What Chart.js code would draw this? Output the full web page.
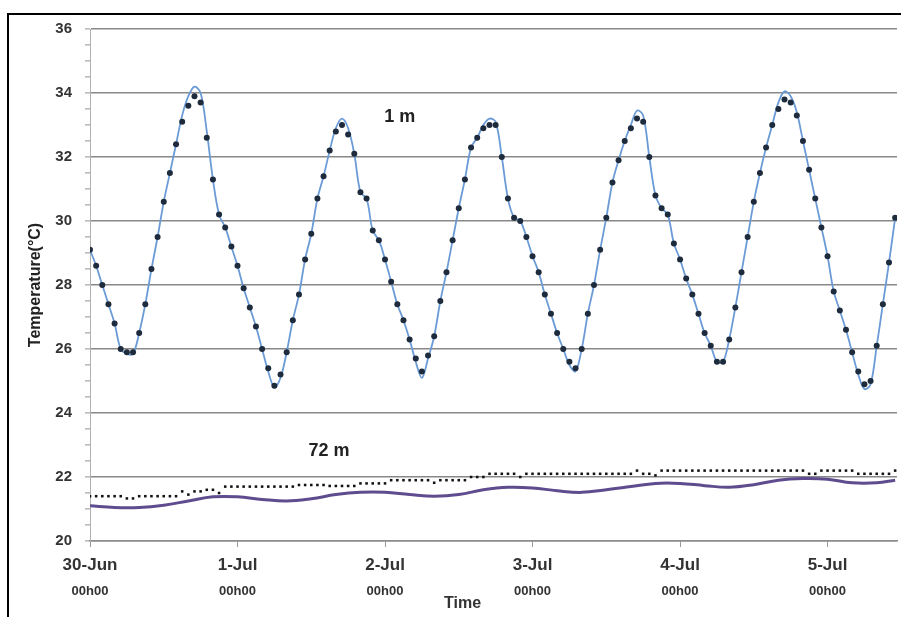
<!DOCTYPE html>
<html>
<head>
<meta charset="utf-8">
<script src="https://cdn.jsdelivr.net/npm/chart.js@4"></script>
<style>
  body { margin: 0; background: #fff; overflow: hidden; }
  #frame { position: absolute; left: 7px; top: 13px; width: 1000px; height: 1000px;
           border-left: 2px solid #000; border-top: 2px solid #000; }
  #graficoTemp { position: absolute; left: 0; top: 0; }
</style>
</head>
<body>
<div id="frame"></div>
<canvas id="graficoTemp" width="901" height="617"></canvas>
<script>
// hourly time axis, starting 30-Jun 00h00
const horas = Array.from({ length: 132 }, (_, i) => i);
const dias = ['30-Jun', '1-Jul', '2-Jul', '3-Jul', '4-Jul', '5-Jul'];

// 1 m : measured (dots) and modelled (line)
const pontos1m = [
  29.1, 28.6, 28.0, 27.4, 26.8, 26.0, 25.9, 25.9, 26.5, 27.4,
  28.5, 29.5, 30.6, 31.5, 32.4, 33.1, 33.6, 33.9, 33.7, 32.6,
  31.3, 30.2, 29.8, 29.2, 28.6, 27.9, 27.3, 26.7, 26.0, 25.4,
  24.85, 25.2, 25.9, 26.9, 27.7, 28.8, 29.6, 30.7, 31.4, 32.2,
  32.8, 33.0, 32.7, 32.1, 30.9, 30.7, 29.7, 29.4, 28.8, 28.1,
  27.4, 26.9, 26.3, 25.7, 25.3, 25.8, 26.4, 27.5, 28.4, 29.4,
  30.4, 31.3, 32.3, 32.6, 32.9, 33.0, 33.0, 32.0, 30.7, 30.1,
  30.0, 29.5, 28.9, 28.4, 27.7, 27.1, 26.5, 26.0, 25.6, 25.4,
  26.0, 27.1, 28.0, 29.1, 30.1, 31.2, 31.9, 32.5, 32.9, 33.2,
  33.1, 32.0, 30.8, 30.4, 30.2, 29.3, 28.8, 28.2, 27.7, 27.1,
  26.5, 26.1, 25.6, 25.6, 26.3, 27.3, 28.4, 29.5, 30.6, 31.5,
  32.3, 33.0, 33.5, 33.8, 33.7, 33.3, 32.5, 31.6, 30.7, 29.8,
  28.9, 27.8, 27.2, 26.6, 25.9, 25.3, 24.9, 25.0, 26.1, 27.4,
  28.7, 30.1
];
const linha1m = [
  29.1, 28.6, 28.0, 27.4, 26.8, 26.0, 25.85, 25.85, 26.5, 27.4,
  28.5, 29.5, 30.6, 31.5, 32.4, 33.3, 33.9, 34.2, 34.0, 32.8,
  31.3, 30.2, 29.8, 29.2, 28.6, 27.9, 27.3, 26.7, 26.0, 25.3,
  24.8, 25.1, 25.9, 26.9, 27.7, 28.8, 29.6, 30.7, 31.4, 32.2,
  32.9, 33.2, 32.9, 32.1, 30.9, 30.7, 29.7, 29.4, 28.8, 28.1,
  27.4, 26.9, 26.3, 25.6, 25.1, 25.7, 26.4, 27.5, 28.4, 29.4,
  30.4, 31.3, 32.3, 32.6, 33.0, 33.2, 33.1, 32.0, 30.7, 30.1,
  30.0, 29.5, 28.9, 28.4, 27.7, 27.1, 26.5, 26.0, 25.5, 25.3,
  26.0, 27.1, 28.0, 29.1, 30.1, 31.2, 31.9, 32.5, 33.0, 33.45,
  33.3, 32.0, 30.8, 30.4, 30.2, 29.3, 28.8, 28.2, 27.7, 27.1,
  26.5, 26.1, 25.6, 25.6, 26.3, 27.3, 28.4, 29.5, 30.6, 31.5,
  32.3, 33.0, 33.7, 34.05, 33.9, 33.4, 32.5, 31.6, 30.7, 29.8,
  28.9, 27.8, 27.2, 26.6, 25.9, 25.2, 24.75, 24.9, 26.1, 27.4,
  28.7, 30.1
];

// 72 m : measured (dots, hourly) and modelled (line, every 4 h)
const pontos72m = [
  21.4, 21.4, 21.4, 21.4, 21.4, 21.4, 21.33, 21.33, 21.4, 21.4,
  21.4, 21.4, 21.4, 21.4, 21.4, 21.55, 21.45, 21.55, 21.55, 21.6,
  21.6, 21.5, 21.7, 21.7, 21.7, 21.7, 21.7, 21.7, 21.7, 21.7,
  21.7, 21.7, 21.7, 21.7, 21.75, 21.75, 21.75, 21.75, 21.75, 21.72,
  21.72, 21.72, 21.72, 21.72, 21.8, 21.8, 21.8, 21.8, 21.8, 21.9,
  21.9, 21.9, 21.9, 21.9, 21.9, 21.9, 21.82, 21.9, 21.9, 21.9,
  21.9, 21.9, 22.0, 22.0, 22.0, 22.1, 22.1, 22.1, 22.1, 22.1,
  22.0, 22.1, 22.1, 22.1, 22.1, 22.1, 22.1, 22.1, 22.1, 22.1,
  22.1, 22.1, 22.1, 22.1, 22.1, 22.1, 22.1, 22.1, 22.1, 22.2,
  22.1, 22.1, 22.05, 22.2, 22.2, 22.2, 22.2, 22.2, 22.2, 22.2,
  22.2, 22.2, 22.2, 22.2, 22.2, 22.2, 22.2, 22.2, 22.2, 22.2,
  22.2, 22.2, 22.2, 22.2, 22.2, 22.2, 22.2, 22.1, 22.1, 22.2,
  22.2, 22.2, 22.2, 22.2, 22.2, 22.1, 22.1, 22.1, 22.1, 22.1,
  22.1, 22.2
];
const horasLinha72m = [0, 4, 8, 12, 16, 20, 24, 28, 32, 36, 40, 44, 48, 52, 56, 60, 64,
  68, 72, 76, 80, 84, 88, 92, 96, 100, 104, 108, 112, 116, 120, 124, 128, 131];
const linha72m = [21.1, 21.05, 21.05, 21.12, 21.25, 21.38, 21.38, 21.3, 21.25, 21.32,
  21.45, 21.52, 21.52, 21.45, 21.4, 21.45, 21.6, 21.68, 21.66, 21.57, 21.52, 21.6,
  21.7, 21.8, 21.8, 21.73, 21.68, 21.76, 21.9, 21.95, 21.93, 21.82, 21.82, 21.9];

const fonte = '"Liberation Sans", Arial, sans-serif';

// text labels drawn on the plot ("1 m", "72 m") plus the x axis title
const rotulos = {
  id: 'rotulos',
  afterDatasetsDraw(chart) {
    const { ctx, scales: { x, y } } = chart;
    ctx.save();
    ctx.fillStyle = '#222';
    ctx.textAlign = 'center';
    ctx.textBaseline = 'middle';
    ctx.font = 'bold 18px ' + fonte;
    ctx.fillText('1 m', x.getPixelForValue(50.4), y.getPixelForValue(33.24));
    ctx.fillText('72 m', x.getPixelForValue(38.9), y.getPixelForValue(22.8));
    ctx.font = 'bold 16px ' + fonte;
    ctx.fillStyle = '#333';
    ctx.fillText('Time', chart.width / 2 + 12, 604);
    ctx.restore();
  }
};

const ctx = document.getElementById('graficoTemp').getContext('2d');

new Chart(ctx, {
  type: 'line',
  data: {
    datasets: [
      {
        data: horas.map((h, i) => ({ x: h, y: pontos1m[i] })),
        showLine: false,
        pointStyle: 'circle',
        pointRadius: 3,
        pointBackgroundColor: '#1d2b3d',
        pointBorderColor: '#1d2b3d',
        pointBorderWidth: 0
      },
      {
        data: horas.map((h, i) => ({ x: h, y: linha1m[i] })),
        borderColor: '#6b9bd6',
        borderWidth: 1.8,
        pointRadius: 0,
        tension: 0.35
      },
      {
        data: horas.map((h, i) => ({ x: h, y: pontos72m[i] })),
        showLine: false,
        pointStyle: 'rect',
        pointRadius: 1.8,
        pointBackgroundColor: '#111',
        pointBorderWidth: 0
      },
      {
        data: horasLinha72m.map((h, i) => ({ x: h, y: linha72m[i] })),
        borderColor: '#5e4c8e',
        borderWidth: 3,
        pointRadius: 0,
        tension: 0.4
      }
    ]
  },
  options: {
    responsive: false,
    animation: false,
    layout: { padding: { left: 14, top: 29, right: 1, bottom: 0 } },
    plugins: { legend: { display: false }, tooltip: { enabled: false } },
    scales: {
      x: {
        type: 'linear',
        min: 0,
        max: 131.3,
        afterFit: s => { s.height = 38; },
        grid: { drawOnChartArea: false, tickLength: 6, tickColor: '#999' },
        border: { color: '#8c8c8c', width: 1.5 },
        ticks: {
          stepSize: 24,
          includeBounds: false,
          padding: 8,
          color: '#333',
          font: { family: fonte, size: 17, weight: 'bold' },
          callback: v => dias[v / 24]
        }
      },
      x2: {
        type: 'linear',
        position: 'bottom',
        min: 0,
        max: 131.3,
        afterFit: s => { s.height = 38; },
        grid: { display: false, drawTicks: false },
        border: { display: false },
        ticks: {
          stepSize: 24,
          includeBounds: false,
          padding: 5,
          color: '#333',
          font: { family: fonte, size: 13, weight: 'bold' },
          callback: () => '00h00'
        }
      },
      y: {
        min: 20,
        max: 36,
        afterFit: s => { s.width = 76; },
        grid: {
          color: c => (c.tick && c.tick.value % 2 === 0 ? '#888' : 'rgba(0,0,0,0)'),
          lineWidth: 1.6,
          tickLength: 5,
          tickColor: '#bbb'
        },
        border: { color: '#b0b0b0', width: 1 },
        ticks: {
          stepSize: 0.5,
          autoSkip: false,
          padding: 13,
          color: '#333',
          font: { family: fonte, size: 15, weight: 'bold' },
          callback: v => (v % 2 === 0 ? v : '')
        },
        title: {
          display: true,
          text: 'Temperature(°C)',
          color: '#222',
          padding: { top: 12, bottom: 0 },
          font: { family: fonte, size: 16, weight: 'bold' }
        }
      }
    }
  },
  plugins: [rotulos]
});
</script>
</body>
</html>
